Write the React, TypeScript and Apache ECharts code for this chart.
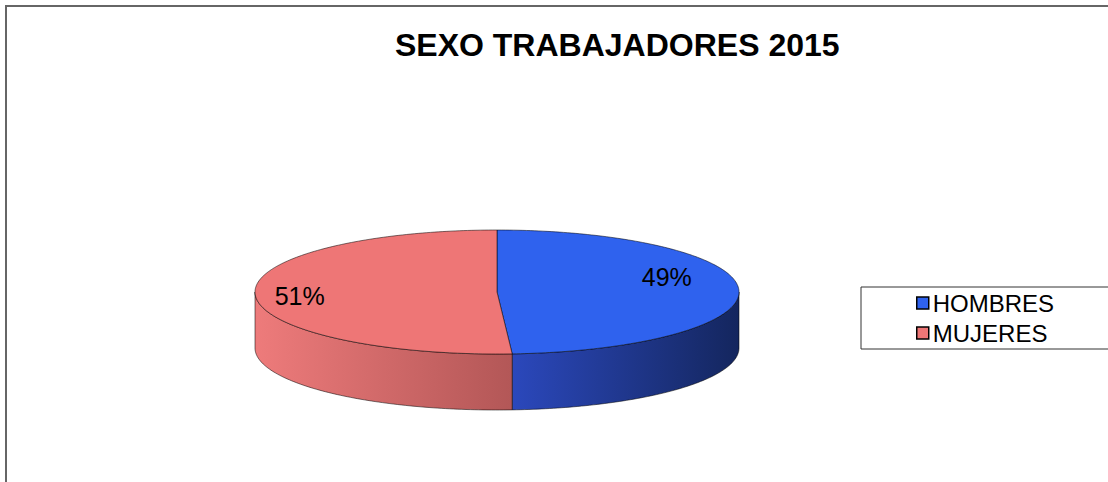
import React, { useEffect, useRef } from "react";
import * as echarts from "echarts";

// ---- data ----
const chartTitle = "SEXO TRABAJADORES 2015";
const categories = ["HOMBRES", "MUJERES"];
const values = [49, 51];

// ---- styling (kept apart from the data) ----
const topColors = ["#2F62EE", "#EE7676"];
const sideColors = [
  ["#2B48BC", "#14265E"],
  ["#EE7B7B", "#B35757"],
];
const labelOffsets = [
  [0.5, -14],
  [-28, 3],
];
const pie = { cx: 497, cy: 292, rx: 242, ry: 62, depth: 56 };

function pt(t: number, dz: number): number[] {
  const r = (t * Math.PI) / 180;
  return [pie.cx + pie.rx * Math.sin(r), pie.cy - pie.ry * Math.cos(r) + dz];
}

function arc(a: number, b: number, dz: number): number[][] {
  const pts: number[][] = [];
  const n = Math.max(2, Math.ceil(Math.abs(b - a)));
  for (let k = 0; k <= n; k++) pts.push(pt(a + ((b - a) * k) / n, dz));
  return pts;
}

function makeRenderItem(i: number) {
  return (_params: any, api: any) => {
    const total = values.reduce((s, v) => s + v, 0);
    const before = values.slice(0, i).reduce((s, v) => s + v, 0);
    const v = api.value(0);
    const start = (before / total) * 360;
    const end = start + (v / total) * 360;
    const children: any[] = [];
    const s = Math.max(start, 90);
    const e = Math.min(end, 270);
    if (e > s) {
      children.push({
        type: "polygon",
        z2: 1,
        shape: { points: arc(s, e, 0).concat(arc(e, s, pie.depth)) },
        style: {
          fill: new echarts.graphic.LinearGradient(0, 0, 1, 0, [
            { offset: 0, color: sideColors[i][0] },
            { offset: 1, color: sideColors[i][1] },
          ]),
          stroke: "rgba(0,0,0,0.65)",
          lineWidth: 0.8,
        },
      });
    }
    children.push({
      type: "polygon",
      z2: 2,
      shape: { points: [[pie.cx, pie.cy]].concat(arc(start, end, 0)) },
      style: {
        fill: topColors[i],
        stroke: "rgba(0,0,0,0.65)",
        lineWidth: 0.8,
      },
    });
    const mid = (start + end) / 2;
    const lp = [
      pie.cx + pie.rx * 0.7 * Math.sin((mid * Math.PI) / 180) + labelOffsets[i][0],
      pie.cy - pie.ry * 0.7 * Math.cos((mid * Math.PI) / 180) + labelOffsets[i][1],
    ];
    children.push({
      type: "text",
      z2: 3,
      x: lp[0],
      y: lp[1],
      style: {
        text: Math.round((v / total) * 100) + "%",
        fill: "#000",
        font: "25px 'Liberation Sans', Arial, sans-serif",
        align: "center",
        verticalAlign: "middle",
      },
    });
    return { type: "group", children };
  };
}

export default function App() {
  const ref = useRef<HTMLDivElement>(null);
  useEffect(() => {
    if (!ref.current) return;
    const chart = echarts.init(ref.current, null, { renderer: "svg" });
    chart.setOption({
      animation: false,
      backgroundColor: "#fff",
      title: {
        text: chartTitle,
        left: 395,
        top: 29,
        padding: 0,
        textStyle: {
          fontSize: 32,
          fontWeight: "bold",
          color: "#000",
          fontFamily: "'Liberation Sans', Arial, sans-serif",
        },
      },
      legend: {
        orient: "vertical",
        left: 861,
        top: 287,
        padding: [4, 200, 4, 55],
        itemWidth: 12,
        itemHeight: 12,
        itemGap: 6,
        icon: "rect",
        borderColor: "#333",
        borderWidth: 1,
        data: categories,
        itemStyle: { borderColor: "#000", borderWidth: 1.5 },
        textStyle: {
          fontSize: 24,
          color: "#000",
          fontFamily: "'Liberation Sans', Arial, sans-serif",
          padding: [0, 0, 0, -1],
        },
      },
      graphic: [
        {
          type: "rect",
          shape: { x: 6, y: 6, width: 1300, height: 700 },
          style: { fill: "none", stroke: "#666", lineWidth: 2 },
          silent: true,
        },
      ],
      series: categories.map((name, i) => ({
        type: "custom",
        name,
        coordinateSystem: "none",
        itemStyle: { color: topColors[i] },
        data: [[values[i]]],
        renderItem: makeRenderItem(i),
      })),
    });
    return () => chart.dispose();
  }, []);
  return (
    <div
      ref={ref}
      style={{ position: "fixed", left: 0, top: 0, width: 1108, height: 482 }}
    />
  );
}
